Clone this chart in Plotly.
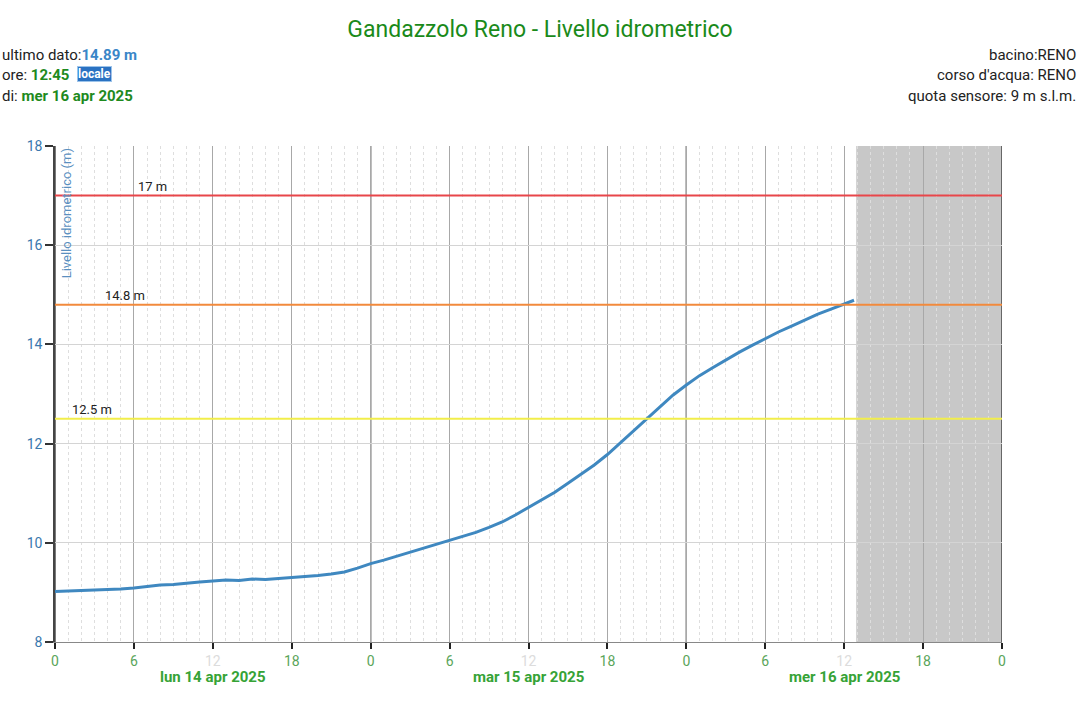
import plotly.graph_objects as go
from datetime import datetime, timedelta

# ---- data ----
start = datetime(2025, 4, 14, 0, 0)
hours = list(range(0, 61)) + [60.75]
levels = [9.02, 9.03, 9.03, 9.04, 9.05, 9.07, 9.09, 9.12, 9.15, 9.16,
          9.19, 9.21, 9.23, 9.25, 9.24, 9.27, 9.26, 9.28, 9.29, 9.31,
          9.34, 9.37, 9.41, 9.49, 9.58, 9.65, 9.73, 9.81, 9.89, 9.97,
          10.05, 10.13, 10.21, 10.31, 10.42, 10.56, 10.71, 10.86, 11.02, 11.20,
          11.39, 11.57, 11.78, 12.02, 12.26, 12.52, 12.76, 12.98, 13.18, 13.37,
          13.53, 13.69, 13.84, 13.98, 14.12, 14.25, 14.37, 14.49, 14.61, 14.71,
          14.81, 14.89]
thresholds = [17.0, 14.8, 12.5]
threshold_labels = ["17 m", "14.8 m", "12.5 m"]
threshold_colors = ["#e8464a", "#f28a3c", "#f2ee4a"]
threshold_label_hours = [7.4, 5.3, 2.8]
day_labels = ["lun 14 apr 2025", "mar 15 apr 2025", "mer 16 apr 2025"]
tick_labels = ["0", "6", "12", "18"]
y_ticks = [8, 10, 12, 14, 16, 18]

times = [start + timedelta(hours=h) for h in hours]
end = start + timedelta(days=3)

GREEN_T = "#5aa55a"
BLUE = "#3b78ad"

fig = go.Figure()
fig.add_trace(go.Scatter(x=times, y=levels, mode="lines",
                         line=dict(color="#3f88c0", width=3),
                         hoverinfo="x+y", showlegend=False))

# threshold lines
for th, col in zip(thresholds, threshold_colors):
    fig.add_shape(type="line", xref="paper", x0=0, x1=1, yref="y", y0=th, y1=th,
                  line=dict(color=col, width=2), layer="above")
for th, lab, hh in zip(thresholds, threshold_labels, threshold_label_hours):
    fig.add_annotation(x=start + timedelta(hours=hh), y=th, text=lab, showarrow=False,
                       yanchor="bottom", yshift=0, font=dict(size=13, color="#222"))

# shaded future region
fig.add_shape(type="rect", xref="x", yref="paper",
              x0=times[-1] + timedelta(minutes=10), x1=end, y0=0, y1=1,
              fillcolor="#c8c8c8", line=dict(width=0), layer="below")

# midnight lines
for d in range(4):
    t = start + timedelta(days=d)
    fig.add_shape(type="line", xref="x", yref="paper", x0=t, x1=t, y0=0, y1=1,
                  line=dict(color="#333333", width=1.3), layer="below")

# tick values
tickvals = []
ticktext = []
for d in range(3):
    for i, lab in enumerate(tick_labels):
        tickvals.append(start + timedelta(days=d, hours=6 * i))
        if lab == "12":
            ticktext.append("<span style='color:#dcdcdc'>12</span>")
        else:
            ticktext.append(lab)
tickvals.append(end)
ticktext.append("0")

# day labels (just below the hour tick labels)
for d, lab in enumerate(day_labels):
    fig.add_annotation(x=start + timedelta(days=d, hours=12), xref="x", yref="paper",
                       y=-0.048, yanchor="top", text="<b>" + lab + "</b>", showarrow=False,
                       font=dict(size=15, color="#36a336"))

# y axis title inside
fig.add_annotation(xref="paper", yref="paper", x=0.012, y=1.0, xanchor="center", yanchor="top",
                   text="Livello idrometrico (m)", textangle=-90, showarrow=False,
                   font=dict(size=13, color="#5a8fbf"))

# header texts
def py(p):
    return (642 - p) / 496.0

lx = -55 / 947.0
fig.add_annotation(xref="paper", yref="paper", x=lx, y=py(55), xanchor="left", yanchor="middle",
                   text="ultimo dato:<b><span style='color:#3a86c8'>14.89 m</span></b>",
                   showarrow=False, font=dict(size=15, color="#222"))
fig.add_annotation(xref="paper", yref="paper", x=lx, y=py(75), xanchor="left", yanchor="middle",
                   text="ore: <b><span style='color:#1e8a1e'>12:45</span></b>",
                   showarrow=False, font=dict(size=15, color="#222"))
fig.add_annotation(xref="paper", yref="paper", x=(77 - 55) / 947.0, y=py(74), xanchor="left",
                   yanchor="middle", text="<b>locale</b>", showarrow=False,
                   bgcolor="#2a72c2", bordercolor="#9cc3ea", borderwidth=1, borderpad=0,
                   font=dict(size=12, color="white"))
fig.add_annotation(xref="paper", yref="paper", x=lx, y=py(96), xanchor="left", yanchor="middle",
                   text="di: <b><span style='color:#1e8a1e'>mer 16 apr 2025</span></b>",
                   showarrow=False, font=dict(size=15, color="#222"))

rx = (1078 - 55) / 947.0
for p, t in [(55, "bacino:RENO"), (75, "corso d'acqua: RENO"), (96, "quota sensore: 9 m s.l.m.")]:
    fig.add_annotation(xref="paper", yref="paper", x=rx, y=py(p), xanchor="right", yanchor="middle",
                       text=t, showarrow=False, font=dict(size=15, color="#222"))

fig.update_layout(
    width=1080, height=711,
    margin=dict(l=55, r=78, t=146, b=69),
    paper_bgcolor="white", plot_bgcolor="white",
    font=dict(family="Roboto, Arial, sans-serif"),
    title=dict(text="Gandazzolo Reno - Livello idrometrico", x=0.5, xanchor="center",
               y=1 - 29 / 711, yanchor="middle", font=dict(size=23, color="#1a8a1a")),
    showlegend=False,
)
fig.update_xaxes(range=[start, end], tickmode="array", tickvals=tickvals, ticktext=ticktext,
                 showgrid=True, gridcolor="#a8a8a8", gridwidth=1,
                 ticks="outside", ticklen=6, tickwidth=2, tickcolor="#222",
                 tickfont=dict(size=14, color=GREEN_T),
                 showline=True, linecolor="#888", linewidth=1, zeroline=False,
                 minor=dict(dtick=3600000, showgrid=True, gridcolor="#dedede",
                            griddash="dot", gridwidth=1))
fig.update_yaxes(range=[8, 18], tickvals=y_ticks, showgrid=True, gridcolor="#d4d4d4",
                 ticks="outside", ticklen=8, tickwidth=2, tickcolor="#333",
                 tickfont=dict(size=14, color=BLUE),
                 showline=True, linecolor="#444", linewidth=1.5, zeroline=False)

fig.write_html("out.html")
